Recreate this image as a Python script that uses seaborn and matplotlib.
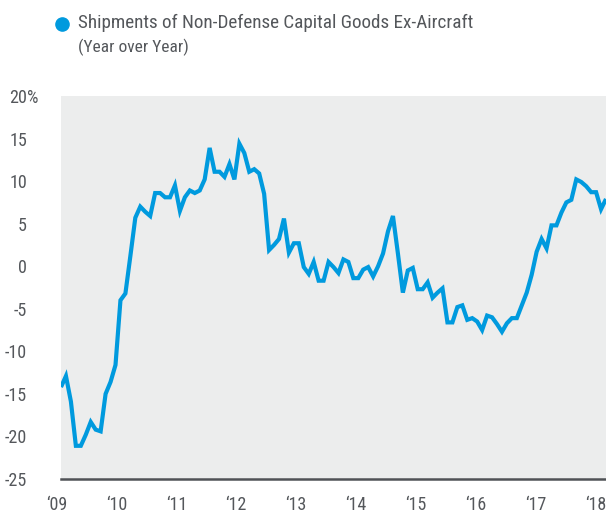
import matplotlib
matplotlib.use("Agg")
import matplotlib.pyplot as plt
import matplotlib.transforms as mtransforms
from matplotlib import font_manager
from matplotlib.lines import Line2D
import seaborn as sns
import pandas as pd

# ---------------- data ----------------
series_name = "Shipments of Non-Defense Capital Goods Ex-Aircraft"
subtitle = "(Year over Year)"
yoy_values = [
    -14.2, -12.9, -15.9, -21.1, -21.1, -19.8, -18.3, -19.2, -19.4, -15.0,
    -13.6, -11.6, -4.0, -3.2, 1.2, 5.7, 7.0, 6.4, 5.9, 8.6,
    8.6, 8.1, 8.1, 9.5, 6.5, 8.1, 8.9, 8.6, 8.9, 10.2,
    13.9, 11.1, 11.1, 10.5, 12.0, 10.2, 14.4, 13.3, 11.1, 11.4,
    10.9, 8.5, 1.9, 2.5, 3.2, 5.6, 1.6, 2.7, 2.7, -0.1,
    -0.9, 0.5, -1.7, -1.7, 0.5, -0.1, -0.8, 0.8, 0.5, -1.4,
    -1.4, -0.4, -0.1, -1.2, 0.0, 1.5, 4.1, 5.9, 1.5, -3.1,
    -0.5, -0.2, -2.7, -2.7, -1.9, -3.7, -3.1, -2.6, -6.6, -6.6,
    -4.8, -4.6, -6.3, -6.1, -6.5, -7.5, -5.8, -6.0, -6.8, -7.7,
    -6.7, -6.1, -6.1, -4.6, -3.1, -1.0, 1.7, 3.2, 2.1, 4.8,
    4.8, 6.3, 7.5, 7.8, 10.2, 9.9, 9.4, 8.7, 8.7, 6.7,
    7.9,
]
month_index = list(range(len(yoy_values)))
year_labels = ["\u201809", "\u201810", "\u201811", "\u201812", "\u201813",
               "\u201814", "\u201815", "\u201816", "\u201817", "\u201818"]
y_ticks = [20, 15, 10, 5, 0, -5, -10, -15, -20, -25]

# ---------------- style ----------------
sns.set_theme(style="white")
avail = {f.name for f in font_manager.fontManager.ttflist}
fam = [f for f in ["Liberation Sans Narrow", "Roboto Condensed", "DejaVu Sans"] if f in avail]
plt.rcParams["font.family"] = fam + ["DejaVu Sans"]

BLUE = "#009ADE"
TEXT = "#54575b"
BG = "#ECEDED"

W, H = 606, 517
fig = plt.figure(figsize=(W / 100, H / 100), dpi=100)
ax = fig.add_axes([61 / W, 38 / H, 545 / W, 383 / H])
ax.set_facecolor(BG)

df = pd.DataFrame({"month": month_index, "yoy": yoy_values})
sns.lineplot(data=df, x="month", y="yoy", ax=ax, color=BLUE, linewidth=3.0,
             solid_joinstyle="miter", solid_capstyle="butt")

ax.set_xlim(0, len(yoy_values) - 1)
ax.set_ylim(-25, 20)
ax.set_xticks([])
ax.set_yticks([])
ax.set_xlabel("")
ax.set_ylabel("")
for s in ["top", "right", "left"]:
    ax.spines[s].set_visible(False)
ax.spines["bottom"].set_color("#505256")
ax.spines["bottom"].set_linewidth(1.8)

# y tick labels (numbers right-aligned, % hanging on the top one)
ytrans = mtransforms.blended_transform_factory(fig.transFigure, ax.transData)
ytrans = ytrans + mtransforms.ScaledTranslation(0, -2 / 100, fig.dpi_scale_trans)
for v in y_ticks:
    ax.text(27 / W, v, f"{v}", transform=ytrans, ha="right", va="center",
            fontsize=13, color=TEXT, clip_on=False)
ax.text(27 / W, y_ticks[0], "%", transform=ytrans, ha="left", va="center",
        fontsize=13, color=TEXT, clip_on=False)

# x labels at January of each year
xtrans = mtransforms.blended_transform_factory(ax.transData, fig.transFigure)
for k, lab in enumerate(year_labels):
    xpos = -0.9 + 12.09 * k
    ax.text(xpos, (H - 505) / H, lab, transform=xtrans, ha="center", va="center",
            fontsize=13, color=TEXT, clip_on=False)

# legend / title
fig.add_artist(Line2D([61.5 / W], [(H - 24) / H], marker="o", markersize=9.5,
                      color=BLUE, linestyle="none", transform=fig.transFigure))
fig.text(78 / W, (H - 23) / H, series_name, ha="left", va="center",
         fontsize=13.8, color=TEXT)
fig.text(78 / W, (H - 47) / H, subtitle, ha="left", va="center",
         fontsize=12.5, color=TEXT)

fig.savefig("out.png", dpi=100)
